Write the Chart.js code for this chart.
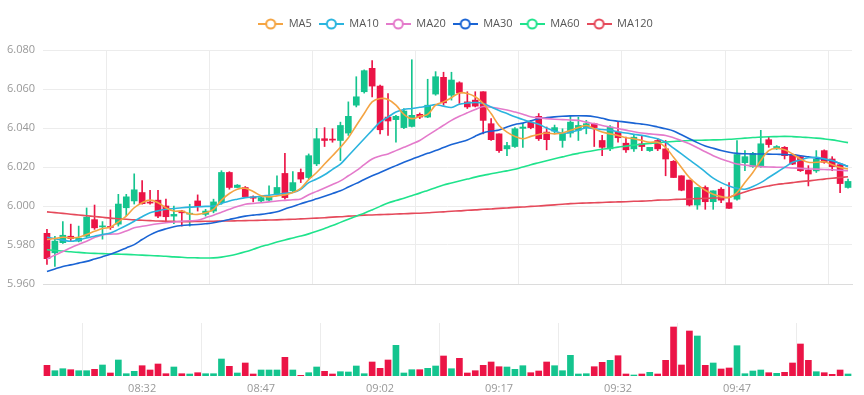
<!DOCTYPE html>
<html><head><meta charset="utf-8">
<script src="https://cdn.jsdelivr.net/npm/chart.js@4.4.0/dist/chart.umd.min.js"></script>
<style>
html,body{margin:0;padding:0;background:#fff;}
#wrap{position:relative;width:864px;height:395px;overflow:hidden;}
#c1{position:absolute;left:0;top:0;}
#c2{position:absolute;left:0;top:300px;}
</style></head><body>
<div id="wrap">
<canvas id="c1" width="864" height="300"></canvas>
<canvas id="c2" width="864" height="95"></canvas>
</div>
<script>
const times = ['08:20','08:21','08:22','08:23','08:24','08:25','08:26','08:27','08:28','08:29',
'08:30','08:31','08:32','08:33','08:34','08:35','08:36','08:37','08:38','08:39',
'08:40','08:41','08:42','08:43','08:44','08:45','08:46','08:47','08:48','08:49',
'08:50','08:51','08:52','08:53','08:54','08:55','08:56','08:57','08:58','08:59',
'09:00','09:01','09:02','09:03','09:04','09:05','09:06','09:07','09:08','09:09',
'09:10','09:11','09:12','09:13','09:14','09:15','09:16','09:17','09:18','09:19',
'09:20','09:21','09:22','09:23','09:24','09:25','09:26','09:27','09:28','09:29',
'09:30','09:31','09:32','09:33','09:34','09:35','09:36','09:37','09:38','09:39',
'09:40','09:41','09:42','09:43','09:44','09:45','09:46','09:47','09:48','09:49',
'09:50','09:51','09:52','09:53','09:54','09:55','09:56','09:57','09:58','09:59',
'10:00','10:01'];

const opens = [5.986,5.976,5.9812,5.9845,5.982,5.9845,5.993,5.9893,5.9895,5.9907,
5.9991,6.0026,6.0069,6.0020,6.0030,6.0000,5.9948,5.9974,5.9958,6.0026,
5.9957,5.9974,6.0017,6.0172,6.0095,6.0095,6.0047,6.0026,6.0030,6.0060,
6.0167,6.0078,6.0172,6.0146,6.0216,6.0345,6.0342,6.0336,6.0374,6.0517,
6.0586,6.0706,6.0615,6.0456,6.0443,6.0402,6.0408,6.0470,6.0456,6.0574,
6.0660,6.0568,6.0632,6.0534,6.0543,6.0586,6.0422,6.0370,6.0293,6.0305,
6.0398,6.0430,6.0460,6.0379,6.0384,6.0336,6.0374,6.0388,6.0402,6.0422,
6.0336,6.0293,6.0379,6.0322,6.0293,6.0319,6.0284,6.0336,6.0293,6.0229,
6.0155,6.0133,6.0005,6.0095,6.0022,6.0086,6.0017,6.0035,6.0222,6.0202,
6.0207,6.0340,6.0293,6.0301,6.0264,6.0253,6.0184,6.0180,6.0284,6.0241,
6.0212,6.0095];

const closes = [5.973,5.982,5.985,5.9833,5.9835,5.9943,5.9888,5.9897,5.989,6.001,
6.0047,6.0083,6.0012,6.0015,5.9948,5.9945,5.9957,5.9965,5.9962,6.000,
5.9974,6.0021,6.0172,6.0095,6.0107,6.0048,6.0040,6.0043,6.0047,6.0095,
6.0043,6.0120,6.0138,6.0258,6.0345,6.0336,6.0338,6.0413,6.0460,6.0560,
6.0694,6.0615,6.0391,6.0436,6.0460,6.0487,6.0465,6.0456,6.0517,6.0663,
6.0529,6.0646,6.0580,6.0508,6.0512,6.0439,6.0340,6.0284,6.0310,6.0396,
6.0405,6.0402,6.0345,6.0340,6.0402,6.0370,6.0430,6.0413,6.0422,6.0402,
6.0301,6.0405,6.0350,6.0288,6.0353,6.0305,6.0301,6.0293,6.0241,6.0146,
6.0081,6.0005,6.0095,6.0022,6.0078,6.0030,5.9988,6.0264,6.0253,6.0270,
6.0319,6.0315,6.0305,6.0258,6.0215,6.0181,6.0164,6.0241,6.0224,6.0202,
6.0115,6.0126];

const highs = [5.988,5.9845,5.992,5.9907,5.9897,5.999,6.0005,5.992,5.998,6.006,
6.006,6.0165,6.013,6.0081,6.0081,6.0035,6.000,5.9978,6.0009,6.0057,
5.9983,6.0035,6.0181,6.0176,6.011,6.010,6.0052,6.0052,6.0103,6.0155,
6.027,6.0176,6.019,6.0267,6.0398,6.0402,6.0396,6.043,6.0534,6.0663,
6.0698,6.0746,6.062,6.0577,6.0465,6.050,6.075,6.0477,6.065,6.0689,
6.0686,6.0686,6.0637,6.0586,6.0586,6.0586,6.0448,6.037,6.0327,6.0402,
6.0424,6.0439,6.0474,6.0405,6.0415,6.0396,6.0465,6.0456,6.0439,6.0425,
6.0362,6.0413,6.043,6.0353,6.0362,6.0362,6.0301,6.0345,6.0336,6.0233,
6.0155,6.0133,6.0095,6.0103,6.0078,6.0095,6.012,6.0336,6.0284,6.0275,
6.0388,6.0353,6.031,6.0305,6.0267,6.0258,6.0207,6.0284,6.0288,6.0253,
6.0215,6.0138];

const lows = [5.970,5.969,5.9808,5.982,5.9816,5.9838,5.988,5.983,5.988,5.9897,
5.995,6.001,6.001,6.0009,5.994,5.9914,5.9909,5.9897,5.9897,5.9974,
5.9948,5.9965,6.0009,6.0086,6.0095,6.0043,6.0021,6.0021,6.0026,6.0057,
6.0035,6.0069,6.012,6.0138,6.0207,6.0305,6.0327,6.0233,6.0362,6.0508,
6.0579,6.056,6.037,6.0362,6.0327,6.0396,6.0405,6.0448,6.0453,6.0568,
6.0517,6.0543,6.0526,6.050,6.0508,6.037,6.0336,6.0275,6.0258,6.0301,
6.0301,6.0396,6.0336,6.0288,6.037,6.0301,6.0353,6.0336,6.037,6.0305,
6.0258,6.0284,6.0327,6.0275,6.028,6.0284,6.028,6.0284,6.0155,6.0146,
6.0078,6.000,5.9983,5.9983,5.9983,6.0017,5.9988,6.003,6.0181,6.0198,
6.0198,6.0301,6.029,6.0241,6.0212,6.0177,6.0103,6.0172,6.0219,6.0181,
6.0069,6.0091];

const volumes = [1070,530,730,630,530,530,670,1100,300,1600,
230,470,1030,600,1200,230,900,230,200,330,
230,230,1700,970,300,1300,200,600,600,600,
1870,600,70,330,900,470,200,430,400,1000,
230,1400,770,1600,3070,300,630,630,770,1000,
2000,730,1770,300,530,1070,1400,930,900,670,
1030,330,500,1400,1030,530,2070,200,230,930,
1370,1570,2030,200,100,200,370,200,1570,4900,
1100,4500,4000,1070,1300,700,800,3030,230,500,
600,330,270,370,1300,3200,1570,430,330,170,
600,200];

const ma5 = [5.9828,5.9833,5.9840,5.9836,5.9840,5.9854,5.9870,5.9885,5.9891,5.9919,
5.9948,5.9991,6.0017,6.0030,6.0017,5.9991,5.9974,5.9974,5.9960,5.9957,
5.9965,5.9983,6.0030,6.0064,6.0086,6.0091,6.0074,6.0052,6.0047,6.0052,
6.0057,6.0069,6.0091,6.0135,6.0172,6.0215,6.0258,6.0301,6.0350,6.0413,
6.0474,6.0534,6.0551,6.0546,6.0517,6.0470,6.0448,6.0460,6.0470,6.0517,
6.0534,6.0555,6.0580,6.0577,6.0560,6.0526,6.0474,6.0413,6.0379,6.0357,
6.0345,6.0357,6.0367,6.0374,6.0370,6.0374,6.0388,6.0402,6.0413,6.0396,
6.0379,6.0370,6.0362,6.0350,6.0345,6.0336,6.0327,6.0327,6.0301,6.0250,
6.0198,6.0146,6.0109,6.0081,6.0060,6.0048,6.0043,6.0069,6.0120,6.0172,
6.0233,6.0284,6.0296,6.0288,6.0267,6.0241,6.0224,6.0224,6.0227,6.0212,
6.0198,6.0190];

const ma10 = [5.9840,5.9832,5.9825,5.9819,5.9826,5.9836,5.9845,5.9854,5.9862,5.9880,
5.9900,5.9922,5.9945,5.9965,5.9975,5.9983,5.9987,5.9991,5.9994,5.9996,
5.9998,6.0000,6.0013,6.0026,6.0035,6.0043,6.0046,6.0050,6.0055,6.0060,
6.0065,6.0069,6.0086,6.0120,6.0138,6.0160,6.0188,6.0215,6.0258,6.0301,
6.0345,6.0388,6.0430,6.0456,6.0482,6.0495,6.0500,6.0506,6.0512,6.0520,
6.0512,6.0505,6.0522,6.0528,6.0531,6.0526,6.0508,6.0490,6.0474,6.0458,
6.0443,6.0431,6.0419,6.0400,6.0384,6.0372,6.0378,6.0388,6.0402,6.0396,
6.0392,6.0388,6.0381,6.0374,6.0368,6.0362,6.0354,6.0345,6.0327,6.0297,
6.0267,6.0237,6.0207,6.0175,6.0143,6.0120,6.0103,6.0091,6.0086,6.0100,
6.0120,6.0146,6.0172,6.0198,6.0224,6.0236,6.0247,6.0250,6.0242,6.0233,
6.0218,6.0202];

const ma20 = [5.9728,5.9748,5.9767,5.9786,5.9803,5.9819,5.9838,5.9852,5.9856,5.9858,
5.9872,5.9888,5.9896,5.9903,5.9909,5.9914,5.9918,5.9922,5.9924,5.9927,
5.9940,5.9953,5.9968,5.9983,5.9997,6.0009,6.0013,6.0017,6.0021,6.0026,
6.0029,6.0032,6.0036,6.0058,6.0075,6.0092,6.0110,6.0129,6.0155,6.0181,
6.0212,6.0241,6.0256,6.0267,6.0284,6.0301,6.0318,6.0336,6.0362,6.0388,
6.0414,6.0439,6.0460,6.0478,6.0495,6.0510,6.0506,6.0500,6.0492,6.0482,
6.0471,6.0458,6.0452,6.0448,6.0445,6.0443,6.0441,6.0439,6.0430,6.0422,
6.0413,6.0405,6.0397,6.0389,6.0381,6.0374,6.0370,6.0366,6.0362,6.0350,
6.0335,6.0319,6.0299,6.0278,6.0258,6.0241,6.0228,6.0215,6.0210,6.0205,
6.0202,6.0200,6.0199,6.0198,6.0195,6.0193,6.0190,6.0189,6.0187,6.0186,
6.0183,6.0181];

const ma30 = [5.9664,5.9677,5.9690,5.9698,5.9707,5.9716,5.9728,5.9740,5.9753,5.9768,
5.9785,5.9802,5.9828,5.9852,5.9870,5.9883,5.9894,5.9900,5.9903,5.9905,
5.9909,5.9914,5.9922,5.9931,5.9940,5.9948,5.9953,5.9957,5.9963,5.9970,
5.9985,5.9998,6.0012,6.0024,6.0037,6.0050,6.0064,6.0078,6.0097,6.0116,
6.0136,6.0155,6.0172,6.0190,6.0207,6.0224,6.0240,6.0255,6.0270,6.0284,
6.0300,6.0315,6.0327,6.0338,6.0358,6.0375,6.0384,6.0390,6.0405,6.0418,
6.0425,6.0437,6.0447,6.0453,6.0457,6.0460,6.0462,6.0463,6.0462,6.0458,
6.0450,6.0440,6.0435,6.0430,6.0425,6.0420,6.0414,6.0405,6.0396,6.0385,
6.0365,6.0345,6.0325,6.0308,6.0296,6.0285,6.0276,6.0270,6.0268,6.0267,
6.0267,6.0266,6.0265,6.0264,6.0262,6.0258,6.0252,6.0246,6.0240,6.0232,
6.0218,6.0203];

const ma60 = [5.9776,5.9772,5.9769,5.9765,5.9762,5.9759,5.9757,5.9756,5.9754,5.9753,
5.9752,5.9750,5.9748,5.9746,5.9744,5.9742,5.9739,5.9737,5.9735,5.9734,
5.9733,5.9734,5.9738,5.9745,5.9754,5.9765,5.9778,5.9792,5.9803,5.9815,
5.9826,5.9836,5.9846,5.9857,5.9870,5.9885,5.9900,5.9916,5.9932,5.9948,
5.9963,5.9980,5.9998,6.0015,6.0028,6.0040,6.0053,6.0066,6.0080,6.0094,
6.0108,6.0118,6.0128,6.0138,6.0148,6.0157,6.0165,6.0173,6.0180,6.0188,
6.0200,6.0212,6.0222,6.0232,6.0242,6.0252,6.0262,6.0270,6.0278,6.0285,
6.0291,6.0296,6.0302,6.0307,6.0312,6.0317,6.0321,6.0325,6.0328,6.0331,
6.0334,6.0336,6.0337,6.0338,6.0339,6.0340,6.0342,6.0345,6.0348,6.0351,
6.0353,6.0355,6.0356,6.0357,6.0356,6.0354,6.0351,6.0348,6.0344,6.0339,
6.0332,6.0325];

const ma120 = [5.9970,5.9966,5.9962,5.9958,5.9954,5.9950,5.9946,5.9942,5.9938,5.9935,
5.9932,5.9929,5.9927,5.9925,5.9923,5.9922,5.9921,5.9920,5.9920,5.9921,
5.9922,5.9922,5.9923,5.9923,5.9924,5.9925,5.9926,5.9927,5.9928,5.9929,
5.9931,5.9932,5.9934,5.9936,5.9938,5.9940,5.9943,5.9945,5.9948,5.9950,
5.9953,5.9954,5.9956,5.9957,5.9959,5.9960,5.9962,5.9963,5.9965,5.9968,
5.9970,5.9973,5.9975,5.9978,5.9980,5.9983,5.9985,5.9988,5.9990,5.9993,
5.9995,5.9998,6.0000,6.0003,6.0006,6.0009,6.0012,6.0014,6.0015,6.0017,
6.0018,6.0020,6.0021,6.0022,6.0024,6.0025,6.0027,6.0030,6.0031,6.0033,
6.0035,6.0036,6.0038,6.0039,6.0041,6.0042,6.0045,6.0058,6.0072,6.0085,
6.0095,6.0103,6.0110,6.0115,6.0120,6.0125,6.0129,6.0133,6.0138,6.0142,
6.0146,6.0150];

const yTicks = [5.960, 5.980, 6.000, 6.020, 6.040, 6.060, 6.080];
const xLabelIndex = [12, 27, 42, 57, 72, 87];
const mainGridIndex = [8, 21, 34, 47, 60, 73, 86, 99];
const volGridIndex = [5, 20, 35, 50, 65, 80, 95];

const UP = '#14C48E', DOWN = '#EB1446';
const MA_COLORS = {MA5:'#F4A443', MA10:'#2BB4DE', MA20:'#E47ACB', MA30:'#1A64D4', MA60:'#1FE38C', MA120:'#E54A5B'};
const FONT = "'Open Sans', 'Noto Sans', sans-serif";

const colors = closes.map((c, i) => c >= opens[i] ? UP : DOWN);

function legendIcon(color) {
  const c = document.createElement('canvas');
  c.width = 25; c.height = 14;
  const g = c.getContext('2d');
  g.strokeStyle = color; g.lineWidth = 2;
  g.beginPath(); g.moveTo(0, 7); g.lineTo(25, 7); g.stroke();
  g.beginPath(); g.arc(12.5, 7, 4.5, 0, Math.PI * 2);
  g.fillStyle = '#fff'; g.fill(); g.stroke();
  return c;
}

const maDefs = [['MA5', ma5], ['MA10', ma10], ['MA20', ma20], ['MA30', ma30], ['MA60', ma60], ['MA120', ma120]];
const maSets = maDefs.map(([name, d]) => ({
  type: 'line', label: name, data: d,
  borderColor: MA_COLORS[name], backgroundColor: MA_COLORS[name],
  borderWidth: 1.6, pointRadius: 0, pointHoverRadius: 0, tension: 0.35,
  pointStyle: legendIcon(MA_COLORS[name]), order: 0
}));

const mainGridSet = new Set(mainGridIndex);
const volGridSet = new Set(volGridIndex);
const labelSet = new Set(xLabelIndex);

const legendTweak = {
  id: 'legendTweak',
  beforeUpdate(chart) {
    const lg = chart.legend;
    if (lg && !lg._tweaked) {
      const origFit = lg.fit;
      lg.fit = function () { origFit.call(this); this.height += 10.5; };
      lg._tweaked = true;
    }
  },
  afterLayout(chart) {
    if (chart.legend) { chart.legend.left += 8; chart.legend.right += 8; }
  }
};

new Chart(document.getElementById('c1'), {
  data: {
    labels: times,
    datasets: [
      ...maSets,
      { type: 'bar', label: 'body', data: opens.map((o, i) => [o, closes[i]]),
        backgroundColor: colors, barThickness: 6, grouped: false, minBarLength: 1, order: 1 },
      { type: 'bar', label: 'wick', data: lows.map((l, i) => [l, highs[i]]),
        backgroundColor: colors, barThickness: 1, grouped: false, order: 2 }
    ]
  },
  plugins: [legendTweak],
  options: {
    responsive: false, animation: false, devicePixelRatio: 1,
    layout: { padding: { left: 0, right: 12, top: 11.5, bottom: 16 } },
    plugins: {
      legend: {
        fullSize: false,
        labels: {
          usePointStyle: true, pointStyleWidth: 25, boxHeight: 14, padding: 7,
          color: '#555', font: { size: 11, family: FONT },
          filter: item => item.text.startsWith('MA')
        }
      },
      tooltip: { enabled: false }
    },
    scales: {
      x: {
        offset: true,
        grid: { offset: true, drawTicks: false, color: ctx => mainGridSet.has(ctx.index) ? '#ececec' : 'rgba(0,0,0,0)' },
        ticks: { display: false, autoSkip: false },
        border: { color: '#dcdcdc' }
      },
      y: {
        min: yTicks[0], max: yTicks[yTicks.length - 1],
        afterFit: s => { s.width = 43; },
        afterBuildTicks: s => { s.ticks = yTicks.map(v => ({ value: v })); },
        ticks: { color: '#999', padding: 8, font: { size: 11, family: FONT }, callback: v => Number(v).toFixed(3) },
        grid: { color: '#ececec', drawTicks: false },
        border: { display: false }
      }
    }
  }
});

new Chart(document.getElementById('c2'), {
  type: 'bar',
  data: { labels: times, datasets: [{ data: volumes, backgroundColor: colors, barThickness: 6 }] },
  options: {
    responsive: false, animation: false, devicePixelRatio: 1,
    layout: { padding: { left: 43, right: 12, top: 23, bottom: 0 } },
    plugins: { legend: { display: false }, tooltip: { enabled: false } },
    scales: {
      x: {
        offset: true,
        afterFit: s => { s.height = 19; },
        grid: { offset: true, drawTicks: false, color: ctx => volGridSet.has(ctx.index) ? '#ececec' : 'rgba(0,0,0,0)' },
        border: { display: false },
        ticks: { autoSkip: false, maxRotation: 0, minRotation: 0, padding: 6, color: '#999',
          font: { size: 11, family: FONT }, callback: (v, i) => labelSet.has(i) ? times[i] : '' }
      },
      y: { display: false, min: 0, max: 5300 }
    }
  }
});
</script>
</body></html>
